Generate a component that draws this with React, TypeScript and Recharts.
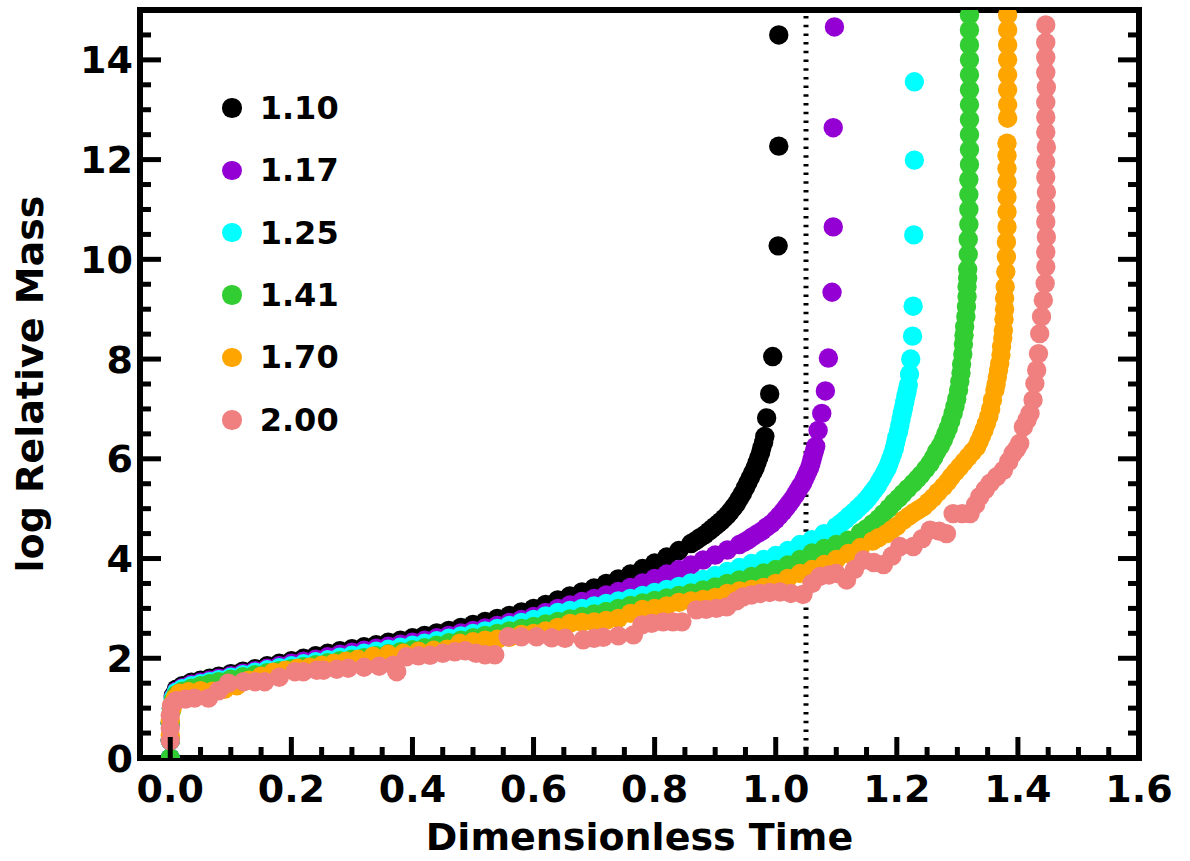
import { ScatterChart, Scatter, XAxis, YAxis, ReferenceLine, Legend } from 'recharts'

const FONT = '"DejaVu Sans", "Liberation Sans", sans-serif'

const seriesNames = ['1.10', '1.17', '1.25', '1.41', '1.70', '2.00']
const seriesColors = ['#000000', '#9400d3', '#00ffff', '#32cd32', '#ffa500', '#f08080']

// [dimensionless time, log relative mass]
const mass110: [number, number][] = [
  [0, 0], [0, 0.35], [0, 0.7], [0.002, 1.0], [0.005, 1.25], [0.01, 1.38], [0.02, 1.45], [0.035, 1.52], [0.05, 1.56],
  [0.065, 1.6], [0.08, 1.64], [0.1, 1.69], [0.12, 1.74], [0.14, 1.79], [0.16, 1.85], [0.18, 1.9], [0.2, 1.95],
  [0.22, 2.0], [0.24, 2.05], [0.26, 2.1], [0.28, 2.15], [0.3, 2.19], [0.32, 2.23], [0.34, 2.27], [0.36, 2.32],
  [0.38, 2.36], [0.4, 2.41], [0.42, 2.46], [0.44, 2.51], [0.46, 2.56], [0.48, 2.62], [0.5, 2.68], [0.52, 2.74],
  [0.54, 2.8], [0.56, 2.86], [0.58, 2.93], [0.6, 3.0], [0.62, 3.08], [0.64, 3.17], [0.66, 3.25], [0.68, 3.33],
  [0.7, 3.41], [0.72, 3.5], [0.74, 3.59], [0.76, 3.69], [0.78, 3.8], [0.8, 3.91], [0.82, 4.03], [0.84, 4.16],
  [0.86, 4.3], [0.868, 4.36], [0.875, 4.42], [0.883, 4.48], [0.89, 4.55], [0.895, 4.6], [0.9, 4.65], [0.905, 4.7],
  [0.91, 4.75], [0.915, 4.81], [0.92, 4.87], [0.925, 4.94], [0.93, 5.02], [0.935, 5.1], [0.94, 5.2], [0.945, 5.3],
  [0.95, 5.42], [0.954, 5.52], [0.958, 5.62], [0.962, 5.72], [0.966, 5.82], [0.969, 5.92], [0.972, 6.02],
  [0.975, 6.12], [0.977, 6.22], [0.98, 6.33], [0.982, 6.45], [0.985, 6.82], [0.99, 7.3], [0.995, 8.05],
  [1.004, 10.27], [1.005, 12.27], [1.005, 14.5],
]

const mass117: [number, number][] = [
  [0, 0], [0, 0.35], [0, 0.7], [0.002, 1.0], [0.005, 1.22], [0.01, 1.34], [0.02, 1.41], [0.035, 1.48], [0.05, 1.52],
  [0.065, 1.56], [0.08, 1.6], [0.1, 1.65], [0.12, 1.7], [0.14, 1.75], [0.16, 1.8], [0.18, 1.85], [0.2, 1.9],
  [0.22, 1.94], [0.24, 1.98], [0.26, 2.03], [0.28, 2.08], [0.3, 2.12], [0.32, 2.16], [0.34, 2.2], [0.36, 2.24],
  [0.38, 2.28], [0.4, 2.32], [0.42, 2.36], [0.44, 2.41], [0.46, 2.46], [0.48, 2.51], [0.5, 2.56], [0.52, 2.61],
  [0.54, 2.66], [0.56, 2.72], [0.58, 2.78], [0.6, 2.84], [0.62, 2.92], [0.64, 3.0], [0.66, 3.07], [0.68, 3.14],
  [0.7, 3.2], [0.72, 3.27], [0.74, 3.34], [0.76, 3.42], [0.78, 3.51], [0.8, 3.6], [0.82, 3.69], [0.84, 3.78],
  [0.86, 3.87], [0.88, 3.97], [0.9, 4.07], [0.92, 4.17], [0.94, 4.28], [0.948, 4.33], [0.955, 4.38], [0.962, 4.44],
  [0.97, 4.5], [0.978, 4.56], [0.985, 4.63], [0.993, 4.7], [1.0, 4.78], [1.006, 4.86], [1.012, 4.94], [1.017, 5.02],
  [1.022, 5.1], [1.027, 5.18], [1.032, 5.27], [1.036, 5.35], [1.04, 5.43], [1.044, 5.5], [1.047, 5.58],
  [1.05, 5.66], [1.053, 5.74], [1.056, 5.82], [1.058, 5.9], [1.06, 5.99], [1.062, 6.08], [1.064, 6.16],
  [1.066, 6.25], [1.07, 6.57], [1.076, 6.91], [1.082, 7.36], [1.087, 8.02], [1.093, 9.34], [1.095, 10.65],
  [1.095, 12.64], [1.097, 14.66],
]

const mass125: [number, number][] = [
  [0, 0], [0, 0.35], [0, 0.7], [0.002, 1.0], [0.005, 1.2], [0.01, 1.32], [0.02, 1.39], [0.035, 1.45], [0.05, 1.49],
  [0.065, 1.53], [0.08, 1.57], [0.1, 1.62], [0.12, 1.67], [0.14, 1.72], [0.16, 1.77], [0.18, 1.81], [0.2, 1.85],
  [0.22, 1.89], [0.24, 1.93], [0.26, 1.97], [0.28, 2.02], [0.3, 2.06], [0.32, 2.1], [0.34, 2.14], [0.36, 2.18],
  [0.38, 2.22], [0.4, 2.26], [0.42, 2.3], [0.44, 2.35], [0.46, 2.4], [0.48, 2.45], [0.5, 2.5], [0.52, 2.55],
  [0.54, 2.6], [0.56, 2.66], [0.58, 2.72], [0.6, 2.78], [0.62, 2.85], [0.64, 2.92], [0.66, 2.96], [0.68, 3.0],
  [0.7, 3.05], [0.72, 3.1], [0.74, 3.15], [0.76, 3.2], [0.78, 3.26], [0.8, 3.32], [0.82, 3.38], [0.84, 3.44],
  [0.86, 3.51], [0.88, 3.58], [0.9, 3.66], [0.92, 3.74], [0.94, 3.82], [0.96, 3.9], [0.98, 3.98], [1.0, 4.06],
  [1.02, 4.16], [1.04, 4.28], [1.06, 4.38], [1.08, 4.5], [1.1, 4.64], [1.108, 4.71], [1.115, 4.78], [1.122, 4.86],
  [1.13, 4.94], [1.136, 5.01], [1.142, 5.08], [1.148, 5.15], [1.153, 5.22], [1.158, 5.3], [1.163, 5.38],
  [1.168, 5.46], [1.172, 5.55], [1.176, 5.63], [1.18, 5.72], [1.184, 5.81], [1.187, 5.9], [1.19, 6.0],
  [1.193, 6.1], [1.196, 6.21], [1.198, 6.32], [1.2, 6.43], [1.203, 6.55], [1.205, 6.67], [1.207, 6.8],
  [1.209, 6.91], [1.211, 7.02], [1.213, 7.13], [1.215, 7.25], [1.217, 7.36], [1.219, 7.48], [1.221, 7.7],
  [1.223, 8.0], [1.226, 8.46], [1.227, 9.06], [1.228, 10.49], [1.229, 11.99], [1.229, 13.56],
]

const mass141: [number, number][] = [
  [0, 0], [0, 0.35], [0, 0.7], [0.002, 0.95], [0.005, 1.15], [0.01, 1.27], [0.02, 1.34], [0.035, 1.4], [0.05, 1.45],
  [0.065, 1.49], [0.08, 1.53], [0.1, 1.58], [0.12, 1.63], [0.14, 1.67], [0.16, 1.71], [0.18, 1.75], [0.2, 1.79],
  [0.22, 1.83], [0.24, 1.87], [0.26, 1.91], [0.28, 1.95], [0.3, 1.98], [0.32, 2.01], [0.34, 2.05], [0.36, 2.09],
  [0.38, 2.13], [0.4, 2.17], [0.42, 2.21], [0.44, 2.26], [0.46, 2.31], [0.48, 2.36], [0.5, 2.41], [0.52, 2.46],
  [0.54, 2.5], [0.56, 2.55], [0.58, 2.6], [0.6, 2.64], [0.62, 2.69], [0.64, 2.74], [0.66, 2.79], [0.68, 2.84],
  [0.7, 2.89], [0.72, 2.94], [0.74, 3.0], [0.76, 3.06], [0.78, 3.11], [0.8, 3.16], [0.82, 3.21], [0.84, 3.26],
  [0.86, 3.31], [0.88, 3.37], [0.9, 3.43], [0.92, 3.5], [0.94, 3.57], [0.96, 3.64], [0.98, 3.71], [1.0, 3.78],
  [1.02, 3.87], [1.04, 3.98], [1.06, 4.11], [1.08, 4.2], [1.1, 4.28], [1.12, 4.37], [1.14, 4.52], [1.15, 4.6],
  [1.16, 4.7], [1.17, 4.8], [1.178, 4.9], [1.187, 5.01], [1.195, 5.12], [1.203, 5.21], [1.21, 5.3], [1.218, 5.4],
  [1.227, 5.51], [1.234, 5.6], [1.24, 5.68], [1.248, 5.8], [1.255, 5.91], [1.261, 6.03], [1.266, 6.15],
  [1.272, 6.26], [1.277, 6.38], [1.281, 6.5], [1.285, 6.62], [1.289, 6.76], [1.293, 6.91], [1.296, 7.05],
  [1.299, 7.2], [1.302, 7.38], [1.304, 7.55], [1.306, 7.72], [1.307, 7.9], [1.309, 8.1], [1.31, 8.3],
  [1.311, 8.48], [1.312, 8.65], [1.314, 8.85], [1.315, 9.05], [1.316, 9.25], [1.316, 9.45], [1.317, 9.62],
  [1.317, 9.8], [1.318, 10.1], [1.318, 10.4], [1.319, 10.7], [1.319, 11.0], [1.319, 11.3], [1.319, 11.6],
  [1.32, 11.9], [1.32, 12.2], [1.32, 12.5], [1.32, 12.8], [1.32, 13.1], [1.32, 13.4], [1.32, 13.7], [1.32, 14.0],
  [1.32, 14.3], [1.32, 14.6], [1.32, 14.9],
]

const mass170: [number, number][] = [
  [0, 0.45], [0, 0.75], [0.003, 1.0], [0.008, 1.2], [0.015, 1.3], [0.03, 1.33], [0.05, 1.35], [0.07, 1.34],
  [0.09, 1.38], [0.11, 1.45], [0.13, 1.56], [0.15, 1.64], [0.17, 1.72], [0.19, 1.76], [0.21, 1.8], [0.23, 1.82],
  [0.25, 1.86], [0.27, 1.9], [0.29, 1.94], [0.31, 1.98], [0.335, 2.04], [0.36, 2.08], [0.385, 2.1], [0.41, 2.14],
  [0.435, 2.16], [0.457, 2.18], [0.478, 2.3], [0.5, 2.33], [0.52, 2.36], [0.54, 2.38], [0.56, 2.42], [0.58, 2.48],
  [0.6, 2.5], [0.62, 2.55], [0.64, 2.62], [0.66, 2.7], [0.68, 2.72], [0.7, 2.73], [0.72, 2.76], [0.74, 2.8],
  [0.76, 2.9], [0.78, 2.98], [0.8, 3.0], [0.82, 3.05], [0.84, 3.12], [0.86, 3.15], [0.88, 3.18], [0.9, 3.22],
  [0.92, 3.3], [0.94, 3.35], [0.96, 3.38], [0.98, 3.42], [1.0, 3.5], [1.02, 3.6], [1.04, 3.7], [1.06, 3.78],
  [1.08, 3.88], [1.1, 3.98], [1.12, 4.1], [1.14, 4.22], [1.16, 4.35], [1.17, 4.42], [1.183, 4.5], [1.192, 4.58],
  [1.2, 4.65], [1.211, 4.77], [1.22, 4.85], [1.228, 4.92], [1.236, 4.98], [1.244, 5.04], [1.252, 5.13],
  [1.26, 5.22], [1.268, 5.33], [1.277, 5.44], [1.284, 5.54], [1.29, 5.64], [1.297, 5.74], [1.304, 5.84],
  [1.311, 5.94], [1.318, 6.04], [1.325, 6.14], [1.332, 6.24], [1.336, 6.35], [1.34, 6.46], [1.344, 6.58],
  [1.348, 6.71], [1.352, 6.85], [1.355, 7.0], [1.358, 7.18], [1.362, 7.38], [1.364, 7.5], [1.366, 7.64],
  [1.368, 7.78], [1.37, 7.91], [1.372, 8.08], [1.373, 8.25], [1.375, 8.42], [1.376, 8.58], [1.377, 8.8],
  [1.378, 9.0], [1.378, 9.22], [1.379, 9.45], [1.38, 9.75], [1.381, 10.05], [1.381, 10.35], [1.382, 10.65],
  [1.382, 10.95], [1.382, 11.25], [1.382, 11.55], [1.382, 11.82], [1.382, 12.08], [1.382, 12.33],
  [1.383, 12.83], [1.383, 13.1], [1.383, 13.4], [1.383, 13.7], [1.383, 14.0], [1.383, 14.3], [1.383, 14.6],
  [1.383, 14.9],
]

const mass200: [number, number][] = [
  [0, 0.35], [0, 0.6], [0, 0.85], [0.002, 1.05], [0.01, 1.15], [0.025, 1.18], [0.04, 1.2], [0.063, 1.2],
  [0.08, 1.35], [0.096, 1.5], [0.121, 1.53], [0.14, 1.53], [0.156, 1.53], [0.18, 1.62], [0.206, 1.73],
  [0.22, 1.73], [0.242, 1.76], [0.253, 1.76], [0.275, 1.78], [0.294, 1.8], [0.32, 1.82], [0.345, 1.84],
  [0.368, 1.86], [0.374, 1.73], [0.39, 2.03], [0.41, 2.05], [0.429, 2.06], [0.45, 2.1], [0.47, 2.13],
  [0.487, 2.15], [0.505, 2.1], [0.52, 2.07], [0.536, 2.07], [0.558, 2.43], [0.58, 2.43], [0.605, 2.43],
  [0.63, 2.41], [0.652, 2.4], [0.682, 2.37], [0.7, 2.4], [0.715, 2.42], [0.74, 2.45], [0.765, 2.47],
  [0.779, 2.67], [0.795, 2.7], [0.814, 2.73], [0.83, 2.73], [0.845, 2.73], [0.869, 2.97], [0.885, 2.98],
  [0.902, 3.0], [0.919, 3.03], [0.935, 3.15], [0.946, 3.23], [0.96, 3.27], [0.974, 3.3], [0.99, 3.32],
  [1.007, 3.33], [1.025, 3.3], [1.045, 3.28], [1.06, 3.5], [1.073, 3.64], [1.088, 3.67], [1.1, 3.7],
  [1.117, 3.57], [1.13, 3.78], [1.145, 3.97], [1.162, 3.92], [1.178, 3.88], [1.192, 4.05], [1.205, 4.24],
  [1.227, 4.24], [1.242, 4.4], [1.255, 4.57], [1.27, 4.55], [1.282, 4.5], [1.293, 4.9], [1.308, 4.9],
  [1.321, 4.9], [1.33, 5.08], [1.337, 5.24], [1.346, 5.38], [1.354, 5.51], [1.365, 5.64], [1.376, 5.77],
  [1.385, 5.95], [1.392, 6.11], [1.398, 6.2], [1.403, 6.31], [1.409, 6.64], [1.415, 6.78], [1.42, 6.91],
  [1.425, 7.18], [1.428, 7.51], [1.431, 7.78], [1.434, 8.11], [1.436, 8.51], [1.439, 8.85], [1.442, 9.18],
  [1.445, 9.52], [1.446, 9.85], [1.446, 10.15], [1.447, 10.45], [1.446, 10.75], [1.446, 11.05], [1.447, 11.35],
  [1.446, 11.65], [1.446, 11.95], [1.447, 12.25], [1.446, 12.55], [1.446, 12.85], [1.446, 13.15],
  [1.447, 13.45], [1.446, 13.75], [1.446, 14.05], [1.446, 14.35], [1.446, 14.7],
]

const criticalTime = 1.05

const xTicks = [
  -0.05, 0, 0.05, 0.1, 0.15, 0.2, 0.25, 0.3, 0.35, 0.4, 0.45, 0.5, 0.55, 0.6, 0.65, 0.7, 0.75, 0.8,
  0.85, 0.9, 0.95, 1.0, 1.05, 1.1, 1.15, 1.2, 1.25, 1.3, 1.35, 1.4, 1.45, 1.5, 1.55, 1.6,
]
const xMajor = [0, 0.2, 0.4, 0.6, 0.8, 1.0, 1.2, 1.4, 1.6]
const yTicks = [
  0, 0.5, 1, 1.5, 2, 2.5, 3, 3.5, 4, 4.5, 5, 5.5, 6, 6.5, 7, 7.5, 8, 8.5, 9, 9.5, 10, 10.5, 11, 11.5,
  12, 12.5, 13, 13.5, 14, 14.5, 15,
]
const yMajor = [0, 2, 4, 6, 8, 10, 12, 14]

const allSeries = [mass110, mass117, mass125, mass141, mass170, mass200]

const isMajor = (v: number, majors: number[]) => majors.some((m) => Math.abs(m - v) < 1e-6)

const MAJOR = 21
const MINOR = 11
const spine = { stroke: '#000', strokeWidth: 6, strokeLinecap: 'square' as const }

function BottomTick({ x, y, payload }: any) {
  const major = isMajor(payload.value, xMajor)
  return (
    <g>
      <line x1={x} x2={x} y1={y} y2={y - (major ? MAJOR : MINOR)} stroke="#000" strokeWidth={5} />
      {major && (
        <text x={x} y={y + 44} textAnchor="middle" fontFamily={FONT} fontWeight="bold" fontSize={38} fill="#000">
          {payload.value.toFixed(1)}
        </text>
      )}
    </g>
  )
}

function TopTick({ x, y, payload }: any) {
  const major = isMajor(payload.value, xMajor)
  return <line x1={x} x2={x} y1={y} y2={y + (major ? MAJOR : MINOR)} stroke="#000" strokeWidth={5} />
}

function LeftTick({ x, y, payload }: any) {
  const major = isMajor(payload.value, yMajor)
  return (
    <g>
      <line x1={x} x2={x + (major ? MAJOR : MINOR)} y1={y} y2={y} stroke="#000" strokeWidth={5} />
      {major && (
        <text x={x - 7} y={y + 13.5} textAnchor="end" fontFamily={FONT} fontWeight="bold" fontSize={38} fill="#000">
          {payload.value}
        </text>
      )}
    </g>
  )
}

function RightTick({ x, y, payload }: any) {
  const major = isMajor(payload.value, yMajor)
  return <line x1={x} x2={x - (major ? MAJOR : MINOR)} y1={y} y2={y} stroke="#000" strokeWidth={5} />
}

const xTitle = (props: any) => {
  const vb = props.viewBox
  return (
    <text x={vb.x + vb.width / 2} y={vb.y + 92} textAnchor="middle" fontFamily={FONT} fontWeight="bold" fontSize={38} fill="#000">
      Dimensionless Time
    </text>
  )
}

const yTitle = (props: any) => {
  const vb = props.viewBox
  const cy = vb.y + vb.height / 2
  return (
    <text x={43} y={cy} transform={`rotate(-90, 43, ${cy})`} textAnchor="middle" fontFamily={FONT} fontWeight="bold" fontSize={38} fill="#000">
      log Relative Mass
    </text>
  )
}

const renderLegend = ({ payload }: any) => (
  <div style={{ fontFamily: FONT, fontWeight: 'bold', fontSize: 32, color: '#000' }}>
    {(payload || []).map((entry: any) => (
      <div key={entry.value} style={{ display: 'flex', alignItems: 'center', height: 62.4 }}>
        <span style={{ width: 19.4, height: 19.4, borderRadius: '50%', background: entry.color, display: 'inline-block' }} />
        <span style={{ marginLeft: 18, lineHeight: '62.4px' }}>{entry.value}</span>
      </div>
    ))}
  </div>
)

export default function App() {
  return (
    <div style={{ position: 'absolute', left: 0, top: 0, background: '#fff' }}>
      <ScatterChart width={1190} height={861} margin={{ top: 0, right: 0, bottom: 0, left: 0 }}>
        <XAxis
          xAxisId="b" type="number" dataKey="x" domain={[-0.05, 1.6]} ticks={xTicks} interval={0}
          allowDataOverflow height={103} tickSize={0} tickMargin={0} tickLine={false}
          tick={<BottomTick />} axisLine={spine} label={xTitle}
        />
        <XAxis
          xAxisId="t" orientation="top" type="number" domain={[-0.05, 1.6]} ticks={xTicks} interval={0}
          allowDataOverflow height={10} tickSize={0} tickMargin={0} tickLine={false}
          tick={<TopTick />} axisLine={spine}
        />
        <YAxis
          yAxisId="l" type="number" dataKey="y" domain={[0, 15]} ticks={yTicks} interval={0}
          allowDataOverflow width={140} tickSize={0} tickMargin={0} tickLine={false}
          tick={<LeftTick />} axisLine={spine} label={yTitle}
        />
        <YAxis
          yAxisId="r" orientation="right" type="number" domain={[0, 15]} ticks={yTicks} interval={0}
          allowDataOverflow width={51} tickSize={0} tickMargin={0} tickLine={false}
          tick={<RightTick />} axisLine={spine}
        />
        {allSeries.map((pairs, i) => (
          <Scatter
            key={seriesNames[i]}
            name={seriesNames[i]}
            xAxisId="b"
            yAxisId="l"
            data={pairs.map(([x, y]) => ({ x, y }))}
            fill={seriesColors[i]}
            isAnimationActive={false}
            shape={(p: any) => <circle cx={p.cx} cy={p.cy} r={9.7} fill={seriesColors[i]} />}
          />
        ))}
        <ReferenceLine
          x={criticalTime} xAxisId="b" yAxisId="l" stroke="#000" strokeWidth={5} strokeDasharray="2.5 6.2"
        />
        <Legend
          layout="vertical" align="center" verticalAlign="middle"
          wrapperStyle={{ left: 222.3, top: 76.8, width: 200, height: 'auto' }}
          content={renderLegend}
        />
      </ScatterChart>
    </div>
  )
}
